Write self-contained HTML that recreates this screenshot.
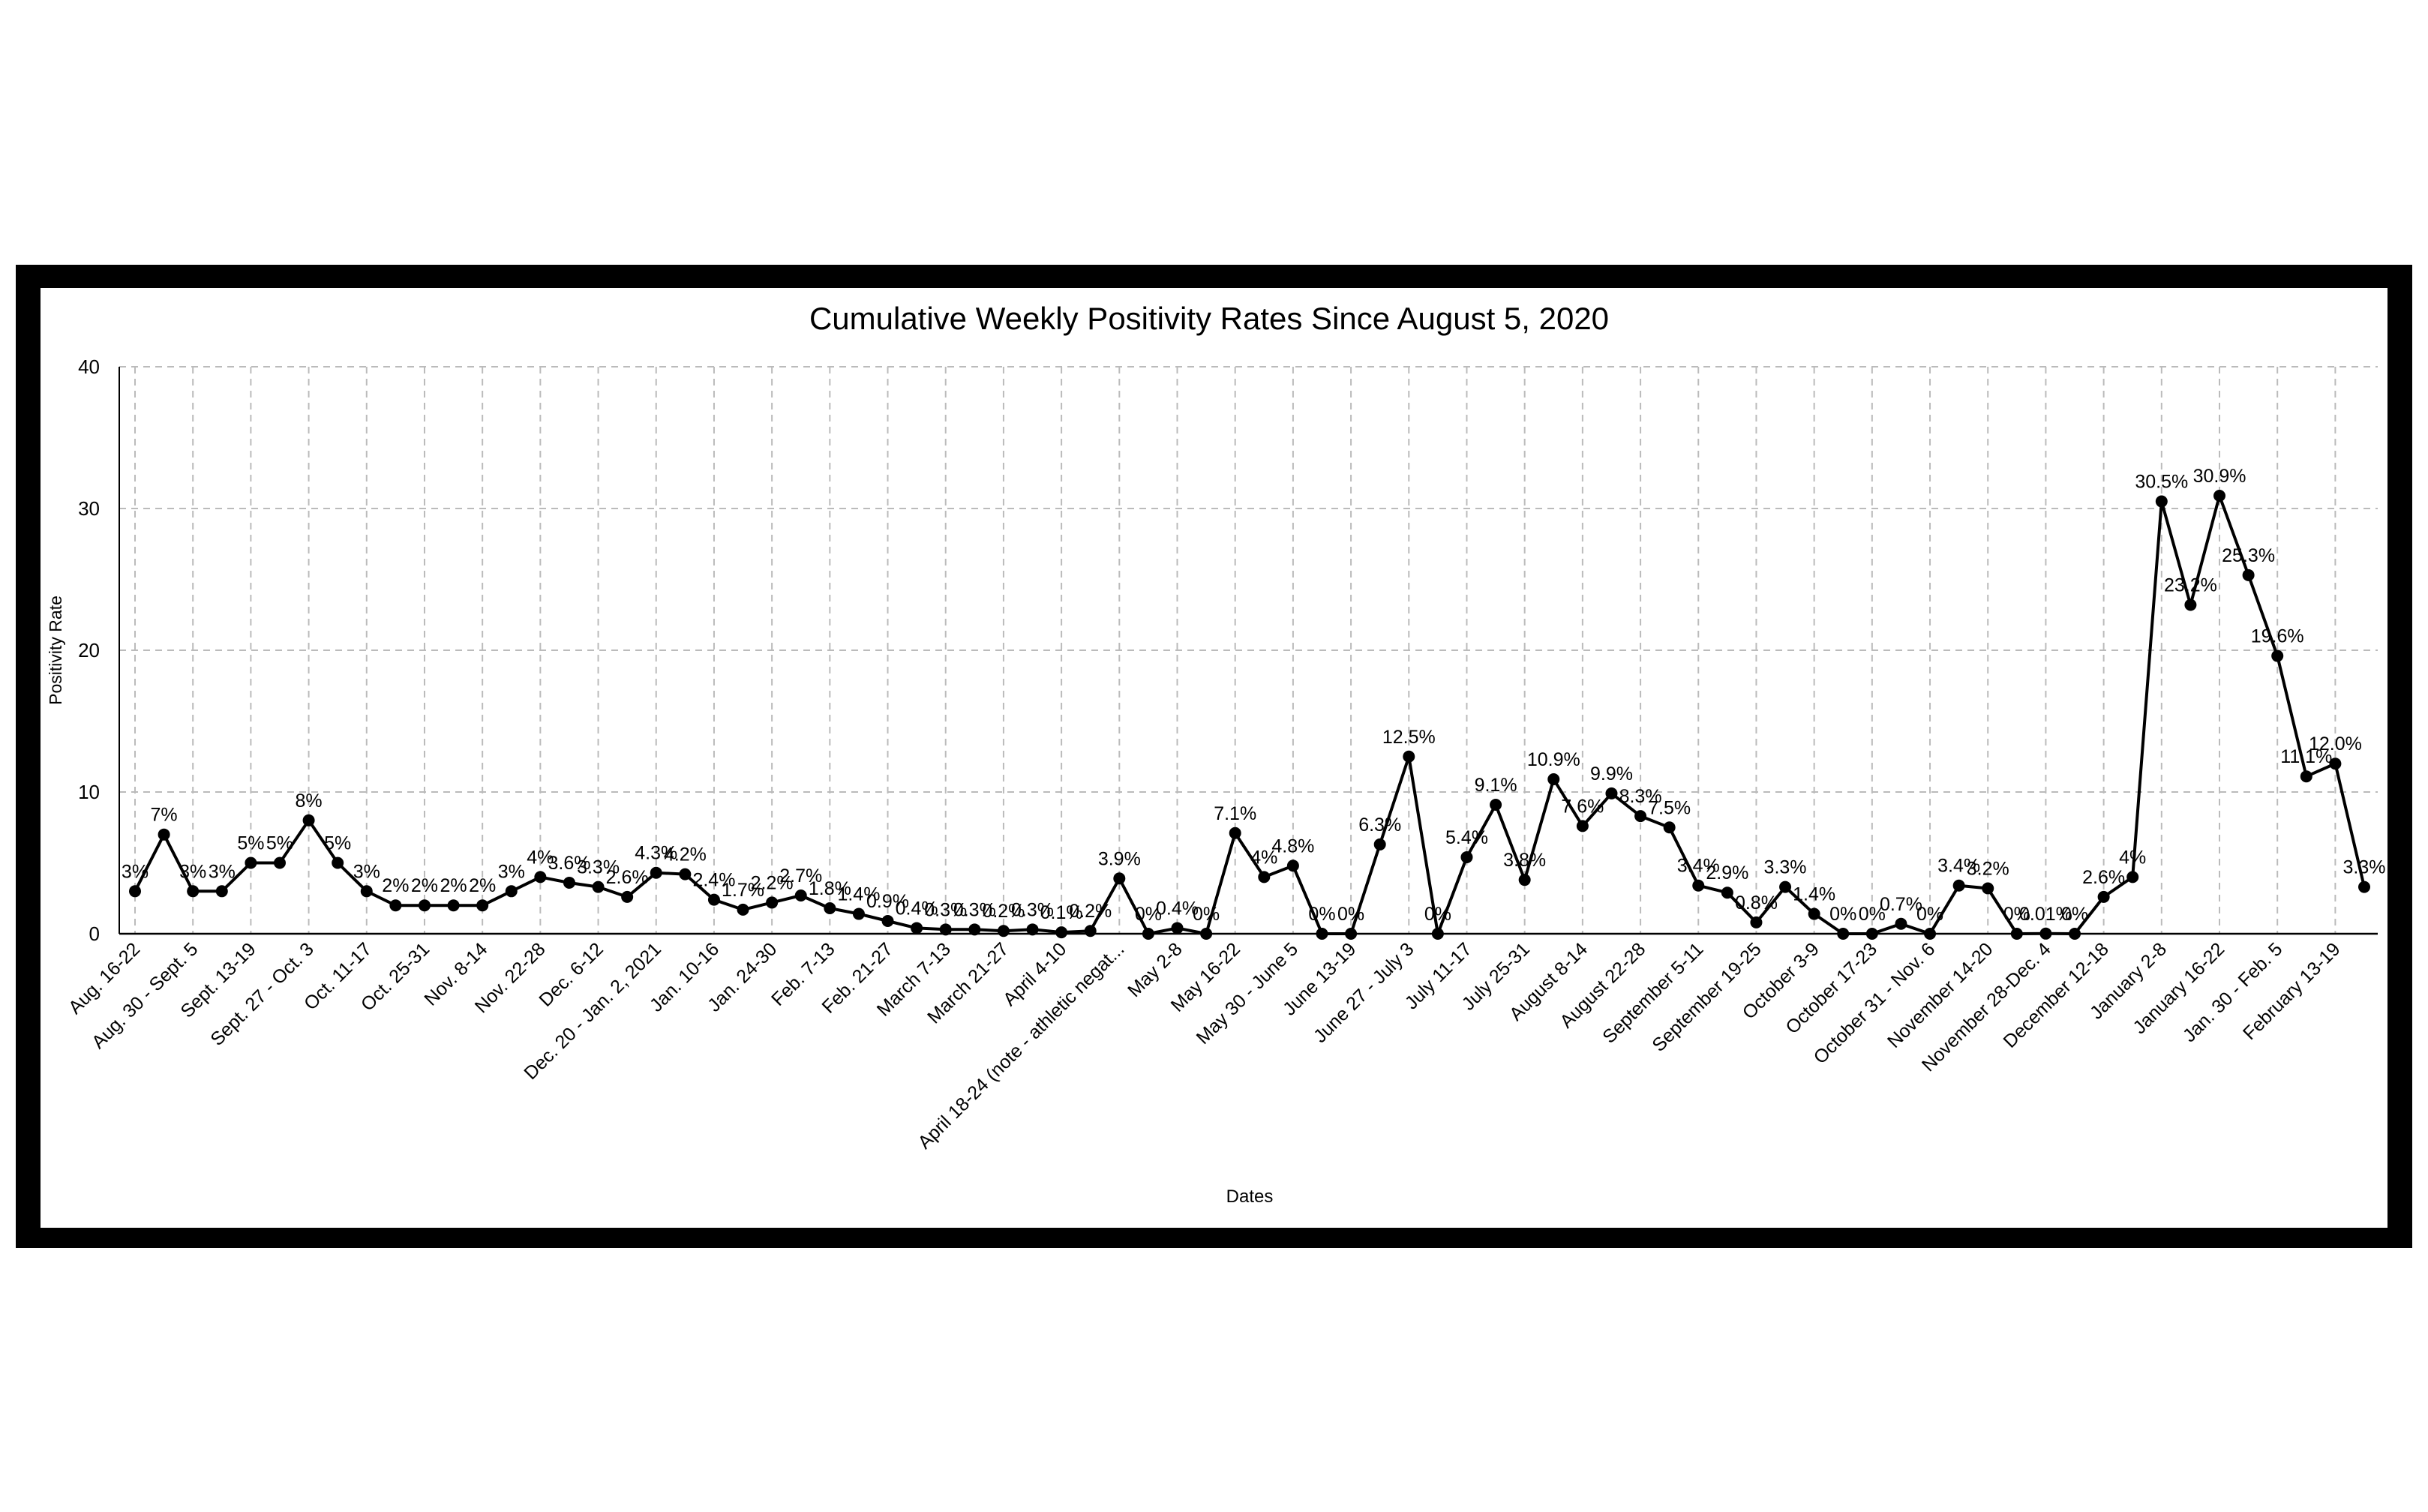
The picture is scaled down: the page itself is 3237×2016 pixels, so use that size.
<!DOCTYPE html>
<html><head><meta charset="utf-8"><style>
html,body{margin:0;padding:0;background:#fff;}
svg{display:block;font-family:"Liberation Sans",sans-serif;}
</style></head><body>
<svg id="s" width="3237" height="2016" xmlns="http://www.w3.org/2000/svg">
<rect x="0" y="0" width="3237" height="2016" fill="#fff"/>
<rect x="21" y="353" width="3195" height="1311" fill="#000"/>
<rect x="54" y="384" width="3129" height="1253" fill="#fff"/>
<text x="1612" y="439" font-size="42" text-anchor="middle" fill="#000">Cumulative Weekly Positivity Rates Since August 5, 2020</text>
<text x="0" y="0" font-size="23" text-anchor="middle" transform="translate(82,867) rotate(-90)">Positivity Rate</text>
<text x="1666" y="1603" font-size="24" text-anchor="middle">Dates</text>
<g id="g"></g>
</svg>
<script>
var vals=[3,7,3,3,5,5,8,5,3,2,2,2,2,3,4,3.6,3.3,2.6,4.3,4.2,2.4,1.7,2.2,2.7,1.8,1.4,0.9,0.4,0.3,0.3,0.2,0.3,0.1,0.2,3.9,0,0.4,0,7.1,4,4.8,0,0,6.3,12.5,0,5.4,9.1,3.8,10.9,7.6,9.9,8.3,7.5,3.4,2.9,0.8,3.3,1.4,0,0,0.7,0,3.4,3.2,0,0.01,0,2.6,4,30.5,23.2,30.9,25.3,19.6,11.1,12.0,3.3];
var labs=["3%","7%","3%","3%","5%","5%","8%","5%","3%","2%","2%","2%","2%","3%","4%","3.6%","3.3%","2.6%","4.3%","4.2%","2.4%","1.7%","2.2%","2.7%","1.8%","1.4%","0.9%","0.4%","0.3%","0.3%","0.2%","0.3%","0.1%","0.2%","3.9%","0%","0.4%","0%","7.1%","4%","4.8%","0%","0%","6.3%","12.5%","0%","5.4%","9.1%","3.8%","10.9%","7.6%","9.9%","8.3%","7.5%","3.4%","2.9%","0.8%","3.3%","1.4%","0%","0%","0.7%","0%","3.4%","3.2%","0%","0.01%","0%","2.6%","4%","30.5%","23.2%","30.9%","25.3%","19.6%","11.1%","12.0%","3.3%"];
var xl=["Aug. 16-22","Aug. 30 - Sept. 5","Sept. 13-19","Sept. 27 - Oct. 3","Oct. 11-17","Oct. 25-31","Nov. 8-14","Nov. 22-28","Dec. 6-12","Dec. 20 - Jan. 2, 2021","Jan. 10-16","Jan. 24-30","Feb. 7-13","Feb. 21-27","March 7-13","March 21-27","April 4-10","April 18-24 (note - athletic negat...","May 2-8","May 16-22","May 30 - June 5","June 13-19","June 27 - July 3","July 11-17","July 25-31","August 8-14","August 22-28","September 5-11","September 19-25","October 3-9","October 17-23","October 31 - Nov. 6","November 14-20","November 28-Dec. 4","December 12-18","January 2-8","January 16-22","Jan. 30 - Feb. 5","February 13-19"];
var X0=180,DX=(3152-180)/77,Y0=1245,DY=18.9,L=159,R=3170;
function X(i){return X0+i*DX;}function Y(v){return Y0-v*DY;}
var h='';
for(var k=1;k<=4;k++){var y=Y(k*10);h+='<line x1="'+L+'" x2="'+R+'" y1="'+y+'" y2="'+y+'" stroke="#bbb" stroke-width="2" stroke-dasharray="9,7"/>';}
for(var i=0;i<78;i+=2){h+='<line x1="'+X(i)+'" x2="'+X(i)+'" y1="'+Y(40)+'" y2="'+Y0+'" stroke="#bbb" stroke-width="2" stroke-dasharray="9,7"/>';}
h+='<line x1="'+L+'" x2="'+L+'" y1="'+Y(40)+'" y2="'+Y0+'" stroke="#000" stroke-width="2"/>';
h+='<line x1="'+L+'" x2="'+R+'" y1="'+Y0+'" y2="'+Y0+'" stroke="#000" stroke-width="2.5"/>';
for(var k=0;k<=4;k++){h+='<text x="133" y="'+(Y(k*10)+9)+'" font-size="26" text-anchor="end">'+(k*10)+'</text>';}
var p='';for(var i=0;i<78;i++){p+=(i?' L':'M')+X(i).toFixed(1)+','+Y(vals[i]).toFixed(1);}
h+='<path d="'+p+'" fill="none" stroke="#000" stroke-width="4" stroke-linejoin="round"/>';
for(var i=0;i<78;i++){h+='<circle cx="'+X(i)+'" cy="'+Y(vals[i])+'" r="8" fill="#000"/>';
h+='<text x="'+X(i)+'" y="'+(Y(vals[i])-18)+'" font-size="25" text-anchor="middle">'+labs[i]+'</text>';}
for(var j=0;j<39;j++){var x=X(2*j)+8,y=Y0+22;h+='<text font-size="25" text-anchor="end" transform="translate('+x+','+y+') rotate(-45)">'+xl[j]+'</text>';}
document.getElementById('g').innerHTML=h;
</script>
</body></html>
